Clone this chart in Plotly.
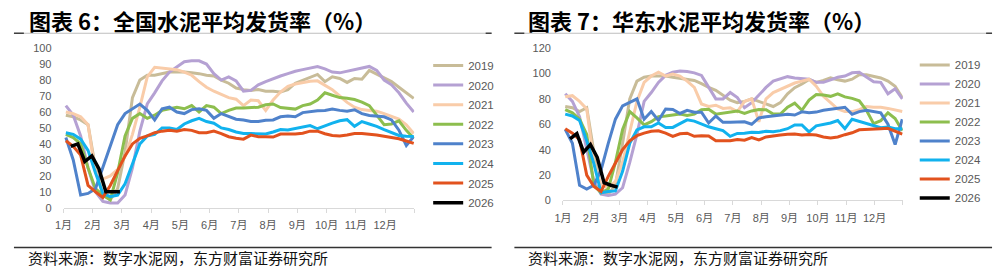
import plotly.graph_objects as go

# ---------------- data ----------------
month_labels = ["1月", "2月", "3月", "4月", "5月", "6月", "7月", "8月", "9月", "10月", "11月", "12月"]
years = ["2019", "2020", "2021", "2022", "2023", "2024", "2025", "2026"]

# weekly index (48 weeks per year), 2026 has 8 weeks so far
weeks_full = list(range(48))
weeks_2026 = list(range(8))

# 全国水泥平均发货率 (%)
nat_2019 = [58,57,55,52,25,8,5,12,35,69,80,83,83,84,85,85,85,84.5,84,83,82.5,80,78,75,74,73.5,74,73,73,72.5,74,78,80,82,83.5,79,82,81,78.5,81,80.5,86,83.5,81,79,75.5,72,68.5]
nat_2020 = [64,58,45,25,10,4,3,3,8,25,48,65,72,79.5,85,88.5,91.5,92,92,90,84,80,82,79.5,73,73.5,77,79,81,82.5,84,85.5,86.5,87.5,88.5,87,85,84.5,85.5,86.5,87.5,88.5,86,80,77,72,65.5,60]
nat_2021 = [60,59,57,52,22,18,20,24,32,46,63,82,88,87.5,87,86.5,85,83,79,75.5,73,71,69,68,64,67.5,67,61,67.5,72.5,76,77.5,78.5,79.3,79.5,77,74,70,66,63,61.5,61,60.5,59,57.5,55.5,52,46.5]
nat_2022 = [46,44,40,25,12,8,5,22,45,56,59,56,58,61,62,63,62,64,60,64,63,59,61,62.5,62.5,62.7,63,64.5,65,62.8,62.2,61.8,64,65,67.5,72,70.5,69,68.6,67.8,66.2,64,58,52,52.5,54.5,48.5,43.5]
nat_2023 = [44,30,8,9,12,25,38,52,59,62,65,61,55,62,63,60,59,61.5,62,61,56,59,57,55.5,55,54,54,54.8,55,57,57.5,57,59.6,60.3,60.7,61,61.8,61,60.5,61.4,59,57.8,57.3,57,55,48.6,39,44.6]
nat_2024 = [47,46,43,36,22,9,7,8,15,28,40,45,46,50,50,49,52.5,54.5,56,54,53,50,49,47.5,46.5,46.5,46.2,46.2,47.5,49,48.7,49.5,50.6,51.5,49.5,51.5,53,54.5,55.2,51,54,52.5,51,49,47,45.3,44.8,44.6]
nat_2025 = [42,38.5,33,14,10,6.5,14,23,32.5,40,43.5,45,47,48,48.5,48,49,48.5,47,47,48,46.5,44.5,43.5,43,45.5,44.5,44.5,44.3,46.2,46.2,46.2,46.7,48,48,46.4,45.3,45,45.6,46.5,46.6,46.2,45.6,44.8,44,43.2,41.8,40.3]
nat_2026 = [38.5,40,29,32.5,24.5,10,10,10]

# 华东水泥平均发货率 (%)
ec_2019 = [74,73,70,73,38,8,5,12,45,80,94,97,98,98,98,97,96,95.5,94.5,92,89,86.7,83,79,77,78,80,78,76.6,74,77,84,88.8,91.7,95.3,93,94.5,96.5,95,94,95.5,99,99,98,96.5,94,90,81]
ec_2020 = [84,78,66,40,15,5,4,5,10,30,52,78,85,93,98.5,101,102,101.5,100.5,98.5,89,80,80,85,81,73,77,83,89,94,96,97.5,96.5,96,95.5,93,93,95,97,98,100.5,101,97,93.5,93,84,88,80]
ec_2021 = [81.6,82.5,78,72,30,12,10,15,30,55,78,93,98,101,98,99.5,98,94,89,76,74,75,72.5,73,70,78,80,62,80,85,87.5,90,92.5,94,95.5,90,82,77,72,70,70,71.5,74,73.4,73.4,72.5,71.5,70]
ec_2022 = [71.6,69,64,52,12,6,9,30,56,70,65,59.5,62,66,66.5,67,68,67,68,71.5,71.8,68,69,70,70.5,68.5,70.5,71.6,71.4,68,68,73.5,76.6,71,79,83.4,83,82,84,81.6,80.4,78.5,71,60.5,62.8,69,64.5,55]
ec_2023 = [56,45,12,9,12,24,45,64,74.5,77.5,80,64,70,63,72,71.6,68.5,71,69.5,69.5,61,66.5,61.5,61.5,61.5,62,60,65,66,66.5,67.2,67.8,67.3,69.8,69,69.6,71,72,72.4,73.4,67.8,70,71,70,69,60,44,64]
ec_2024 = [68,66.5,63,47,29,6,7,7.5,23,45,55.5,58,58,61,57.5,57.5,60.5,63.5,62.5,60,58,56.5,55,50.5,52.8,53,53.8,53.5,54.5,54.2,55,56.5,59.5,59.5,54,58.8,59.8,61,63,56.5,64,62.3,60.5,59,57.3,57.8,56.5,56.5]
ec_2025 = [56.5,53,48,20,11,7,19,29,40,47,51,53,54.5,54.8,53,50.5,52.5,53,50.5,51,50.8,47,47,47,48,47.5,49.5,47.7,50,51,51.5,52.2,52.3,51.5,52,51.5,50,49.2,50,51.8,53.3,55.6,55.8,55.8,56.5,56.8,54.8,52.3]
ec_2026 = [48.5,52.7,38,44,34,14,12,10.5]

nat_series = [nat_2019, nat_2020, nat_2021, nat_2022, nat_2023, nat_2024, nat_2025]
ec_series = [ec_2019, ec_2020, ec_2021, ec_2022, ec_2023, ec_2024, ec_2025]

# ---------------- style ----------------
colors = ["#C8BC98", "#B5A1D3", "#F9CCA9", "#8DBE4E", "#4F82CB", "#11B2EE", "#E2521E", "#000000"]
widths = [3, 3, 3, 3, 3, 3, 3, 3.5]

W, H = 997, 276
GRAY = "#595959"
FONT = "Liberation Sans, Noto Sans CJK SC, sans-serif"
CJK = "Noto Sans CJK SC"


def wk_to_month(w):
    return 0.08 + w * 11.9 / 47


def wk26_to_month(w):
    return 0.25 + w * 0.24


x_full = [wk_to_month(w) for w in weeks_full]
x_26 = [wk26_to_month(w) for w in weeks_2026]

fig = go.Figure()

for i, (vals_list, xa, ya, lg) in enumerate([(nat_series + [nat_2026], "x", "y", "legend"),
                                             (ec_series + [ec_2026], "x2", "y2", "legend2")]):
    for j, vals in enumerate(vals_list):
        xs = x_26 if years[j] == "2026" else x_full
        fig.add_trace(go.Scatter(
            x=xs, y=vals, mode="lines", name=years[j],
            line=dict(color=colors[j], width=widths[j]),
            xaxis=xa, yaxis=ya, legend=lg, legendgroup=f"{lg}_{years[j]}", hoverinfo="skip",
        ))


def xdom(a, b):
    return [a / W, b / W]


def ydom(bottom, top):
    return [1 - bottom / H, 1 - top / H]


xaxis_common = dict(
    range=[0, 12], tickvals=list(range(13)), ticktext=month_labels + [""],
    ticks="outside", ticklen=4, tickcolor="#D9D9D9", showline=True, linecolor="#D9D9D9",
    linewidth=1, showgrid=False, zeroline=False, tickfont=dict(size=11, color=GRAY, family=FONT),
    ticklabelstandoff=3, fixedrange=True,
)
yaxis_common = dict(
    showgrid=False, zeroline=False, showline=False, ticks="", ticklabelstandoff=11,
    tickfont=dict(size=11, color=GRAY, family=FONT), fixedrange=True,
)

fig.update_layout(
    width=W, height=H, margin=dict(l=0, r=0, t=0, b=0),
    paper_bgcolor="white", plot_bgcolor="white", showlegend=True,
    xaxis=dict(domain=xdom(55, 409), anchor="y", **xaxis_common),
    yaxis=dict(domain=ydom(211, 44), anchor="x", range=[0, 100], tickvals=list(range(0, 101, 10)), **yaxis_common),
    xaxis2=dict(domain=xdom(559, 902), anchor="y2", **xaxis_common),
    yaxis2=dict(domain=ydom(203.3, 44), anchor="x2", range=[0, 120], tickvals=list(range(0, 121, 20)), **yaxis_common),
    legend=dict(x=423 / W, y=1 - 47 / H, xanchor="left", yanchor="top", bgcolor="rgba(0,0,0,0)",
                font=dict(size=11.5, color=GRAY, family=FONT), itemwidth=30, tracegroupgap=0.6),
    legend2=dict(x=914 / W, y=1 - 46.5 / H, xanchor="left", yanchor="top", bgcolor="rgba(0,0,0,0)",
                 font=dict(size=11.5, color=GRAY, family=FONT), itemwidth=30, tracegroupgap=0),
)

# titles
titles = [("图表 6：全国水泥平均发货率（%）", 18), ("图表 7：华东水泥平均发货率（%）", 522)]
for text, x0 in titles:
    fig.add_annotation(text="<b>" + text + "</b>", xref="paper", yref="paper", x=x0 / W, y=1 - 15 / H,
                       xanchor="left", yanchor="middle", align="left", showarrow=False,
                       font=dict(size=22, color="#000000", family=CJK))

# sources
for x0 in (17, 522):
    fig.add_annotation(text="资料来源：数字水泥网，东方财富证券研究所", xref="paper", yref="paper",
                       x=x0 / W, y=1 - 263 / H, xanchor="left", yanchor="middle", align="left", showarrow=False,
                       font=dict(size=15, color="#111111", family=CJK))

# decorative rules
for a, b in ((5, 487), (510, 992)):
    fig.add_shape(type="line", xref="paper", yref="paper", x0=a / W, x1=b / W, y0=1 - 28.5 / H, y1=1 - 28.5 / H,
                  line=dict(color="#BFBFBF", width=1))
    fig.add_shape(type="line", xref="paper", yref="paper", x0=a / W, x1=(a + 10) / W, y0=1 - 28.5 / H, y1=1 - 28.5 / H,
                  line=dict(color="#404040", width=1.5))
    fig.add_shape(type="line", xref="paper", yref="paper", x0=(b - 6) / W, x1=b / W, y0=1 - 28.5 / H, y1=1 - 28.5 / H,
                  line=dict(color="#404040", width=1.5))
    fig.add_shape(type="line", xref="paper", yref="paper", x0=a / W, x1=b / W, y0=1 - 252.5 / H, y1=1 - 252.5 / H,
                  line=dict(color="#333333", width=1.5))

fig.write_html("out.html")
